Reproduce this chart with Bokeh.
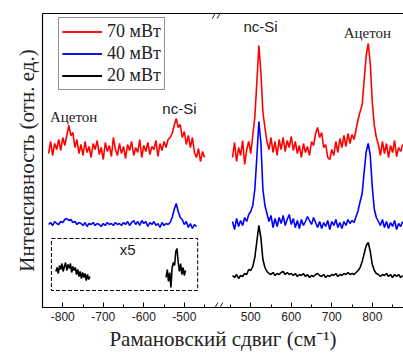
from bokeh.plotting import figure
from bokeh.models import (Range1d, LinearAxis, FixedTicker, Legend, LegendItem,
                          BoxAnnotation, Arrow)
from bokeh.core.properties import value
from bokeh.embed import file_html
from bokeh.resources import INLINE

# ---------------- data ----------------
STEP = 5
LEFT_START = -835
RIGHT_START = 455

red_left = [154, 166, 152, 164, 158, 168, 157,
            170, 162, 172,
            182, 172, 175, 160, 168, 154,
            163, 152, 166, 155, 161, 150, 164, 158, 167, 153,
            160, 148, 165, 156, 162, 151, 170, 158, 152, 164,
            154, 161, 149, 163, 157, 166, 152, 160, 155, 168,
            150, 162, 156, 165, 153, 161, 158, 167, 151, 164,
            157, 166, 160, 168,
            170, 174, 182, 189, 180, 183, 170, 176, 163, 172, 160, 170, 155, 150, 159, 146,
            156, 150]
blue_left = [83, 85, 82, 86, 84, 83, 86, 85, 88, 89, 87, 88, 85, 86, 83, 85, 84, 82, 85, 81,
             84, 83, 85, 82, 84, 83, 81, 84, 82, 85, 83, 84, 82, 85, 83, 84, 82, 85, 83, 86,
             82, 85, 87, 83, 86, 82, 87, 84, 86, 81, 85, 83, 86, 82, 84, 80, 85, 82, 84, 83,
             85, 90, 98, 104, 96, 90, 88, 83, 86, 80, 84, 79, 83, 81]
red_right = [150, 165, 146, 160, 152, 167, 143, 158, 166, 154, 172,
             190, 225, 262, 235, 195, 180, 166,
             158, 170, 155, 166, 152, 168, 158, 170, 156, 167, 160, 171, 157, 166, 154, 162,
             150, 164, 155, 161, 152, 166,
             162, 174, 180, 170, 175, 160, 163,
             150, 148, 158, 152, 166, 155, 169, 160, 172, 161, 174, 164, 173, 168, 178,
             188, 196, 203, 228, 252, 264, 244, 205, 182, 170, 163,
             152, 166, 154, 164, 150, 162, 155, 167, 151, 160, 156, 163]
blue_right = [86, 78, 89, 81, 87, 82, 90, 86, 93, 96, 102,
              118, 150, 186, 165, 118, 102, 94,
              86, 92, 80, 89, 81, 90, 84, 92, 82, 88, 93, 83, 89, 80, 87, 79, 88, 82, 86, 91,
              87, 83, 90, 85, 80, 86, 79, 85, 81, 87, 78, 86, 82, 88, 80, 85, 79, 86, 82, 88,
              84, 87, 85, 91,
              97, 106, 114, 136, 156, 164, 152, 120, 98, 90, 86,
              82, 88, 80, 86, 79, 85, 81, 87, 78, 84, 81, 86]
black_right = [32, 30, 33, 29, 32, 31, 34, 33, 38, 37, 41, 50, 66, 82, 70, 48, 40, 36, 34, 33,
               35, 32, 34, 33, 35, 36, 33, 35, 33, 34, 32, 34, 31, 33, 32, 34, 31, 33, 30, 32,
               31, 33, 34, 32, 31, 33, 30, 32, 31, 33, 32, 34, 31, 33, 32, 34, 33, 35, 33, 34,
               33, 35, 37, 40, 46, 54, 62, 65, 56, 43, 37, 34, 33, 31, 33, 32, 34, 31, 33, 30,
               33, 31, 33, 30, 32]
# x5 inset (20 mW, left panel)
X5_STEP = 3
x5_seg1_start = -817
x5_seg1 = [36, 40, 34, 42, 38, 44, 36, 41, 45, 37, 43, 39, 44, 35, 41, 37, 40, 33, 38, 31,
           36, 29, 35, 30, 34, 27, 33, 28, 31]
x5_seg2_start = -545
x5_seg2 = [30, 38, 26, 35, 20, 40, 45, 42, 56, 59, 45, 36, 44, 33, 40, 32, 37]

labels = ["70 мВт", "40 мВт", "20 мВт"]
colors = ["#ff0000", "#0000ff", "#000000"]

LEFT_LIM = (-850, -418)
RIGHT_LIM = (418, 877)
ticks_left = [-800, -700, -600, -500]
ticks_right = [500, 600, 700, 800]
minor_left = [-850, -750, -650, -550, -450]
minor_right = [450, 550, 650, 750, 850]

# annotations (x, y, text, panel, font)
notes = [(-773, 191, "Ацетон", "left", "Liberation Serif"),
         (-512, 199, "nc-Si", "left", "Liberation Sans"),
         (524, 281, "nc-Si", "right", "Liberation Sans"),
         (788, 275, "Ацетон", "right", "Liberation Serif"),
         (-640, 58, "x5", "left", "Liberation Sans")]
INSET_BOX = dict(left=-828, right=-467, bottom=17, top=69)


def xs(start, step, n):
    return [start + step * i for i in range(n)]


# ---------------- figure ----------------
offset = RIGHT_LIM[0] - LEFT_LIM[1]
span = (LEFT_LIM[1] - LEFT_LIM[0]) + (RIGHT_LIM[1] - RIGHT_LIM[0])
main_range = Range1d(LEFT_LIM[0], LEFT_LIM[0] + span)
right_range = Range1d(LEFT_LIM[0] + offset, LEFT_LIM[0] + span + offset)

p = figure(width=403, height=354, x_range=main_range, y_range=Range1d(0, 294),
           output_backend="svg", toolbar_location=None,
           x_axis_location=None, y_axis_location=None,
           min_border_left=42, min_border_right=0, min_border_top=13, min_border_bottom=47)
p.extra_x_ranges = {"right": right_range}
p.outline_line_color = None
p.xgrid.grid_line_color = None
p.ygrid.grid_line_color = None
p.background_fill_color = "white"

major = ticks_left + [t - offset for t in ticks_right]
minor = minor_left + [t - offset for t in minor_right]
overrides = {t: str(t) for t in ticks_left}
overrides.update({t - offset: str(t) for t in ticks_right})

xb = LinearAxis(ticker=FixedTicker(ticks=major, minor_ticks=minor),
                major_label_overrides=overrides,
                axis_label="Рамановский сдвиг (см⁻¹)")
xb.major_tick_in = 5
xb.major_tick_out = 0
xb.minor_tick_in = 3
xb.minor_tick_out = 0
xb.major_label_standoff = 4
xb.major_label_text_font = "Liberation Sans"
xb.major_label_text_font_size = "12px"
xb.major_label_text_color = "#222222"
xb.axis_label_standoff = 3
xb.axis_label_text_font = "Liberation Serif"
xb.axis_label_text_font_size = "21px"
xb.axis_label_text_font_style = "normal"
xb.axis_label_text_color = "#222222"
xb.axis_line_width = 1.2
p.add_layout(xb, "below")

yl = LinearAxis(ticker=FixedTicker(ticks=[]), axis_label="Интенсивность (отн. ед.)")
yl.major_tick_in = 0
yl.major_tick_out = 0
yl.minor_tick_in = 0
yl.minor_tick_out = 0
yl.major_label_standoff = 0
yl.axis_label_standoff = 4
yl.axis_label_text_font = "Liberation Serif"
yl.axis_label_text_font_size = "21px"
yl.axis_label_text_font_style = "normal"
yl.axis_label_text_color = "#222222"
yl.axis_line_width = 1.2
p.add_layout(yl, "left")

xt = LinearAxis(ticker=FixedTicker(ticks=[]))
xt.major_tick_in = 0
xt.major_tick_out = 0
xt.minor_tick_in = 0
xt.minor_tick_out = 0
xt.major_label_standoff = 0
xt.axis_line_width = 1.2
p.add_layout(xt, "above")

LW = 1.6
rl = p.line(xs(LEFT_START, STEP, len(red_left)), red_left, line_color=colors[0], line_width=LW)
rr = p.line(xs(RIGHT_START, STEP, len(red_right)), red_right, line_color=colors[0],
            line_width=LW, x_range_name="right")
bl = p.line(xs(LEFT_START, STEP, len(blue_left)), blue_left, line_color=colors[1], line_width=LW)
br = p.line(xs(RIGHT_START, STEP, len(blue_right)), blue_right, line_color=colors[1],
            line_width=LW, x_range_name="right")
kr = p.line(xs(RIGHT_START, STEP, len(black_right)), black_right, line_color=colors[2],
            line_width=LW, x_range_name="right")
k1 = p.line(xs(x5_seg1_start, X5_STEP, len(x5_seg1)), x5_seg1, line_color=colors[2], line_width=LW)
k2 = p.line(xs(x5_seg2_start, X5_STEP, len(x5_seg2)), x5_seg2, line_color=colors[2], line_width=LW)

p.add_layout(BoxAnnotation(**INSET_BOX, fill_alpha=0, fill_color=None, line_color="#000000",
                           line_alpha=1.0, line_width=1, line_dash="4 2"))

for (x, y, t, panel, font) in notes:
    kw = {} if panel == "left" else {"x_range_name": "right"}
    p.text(x=[x], y=[y], text=[t], text_font=value(font), text_font_size="15px",
           text_align="center", text_baseline="middle", text_color="#222222", **kw)

legend = Legend(items=[LegendItem(label=labels[0], renderers=[rl, rr]),
                       LegendItem(label=labels[1], renderers=[bl, br]),
                       LegendItem(label=labels[2], renderers=[kr, k1, k2])],
                location=(16, 217))
legend.label_text_font = "Liberation Serif"
legend.label_text_font_size = "18px"
legend.label_text_color = "#222222"
legend.glyph_width = 40
legend.glyph_height = 21
legend.label_height = 21
legend.spacing = 1
legend.padding = 3
legend.margin = 0
legend.label_standoff = 5
legend.border_line_color = "#222222"
legend.border_line_width = 1
p.add_layout(legend)

# axis-break marks
bx = LEFT_LIM[1]
for yb in (0, 294):
    for d in (-6, 6):
        p.add_layout(Arrow(start=None, end=None, x_start=bx + d - 7, y_start=yb - 5,
                           x_end=bx + d + 7, y_end=yb + 5, line_color="#222222", line_width=1))

open("out.html", "w").write(file_html(p, INLINE))
